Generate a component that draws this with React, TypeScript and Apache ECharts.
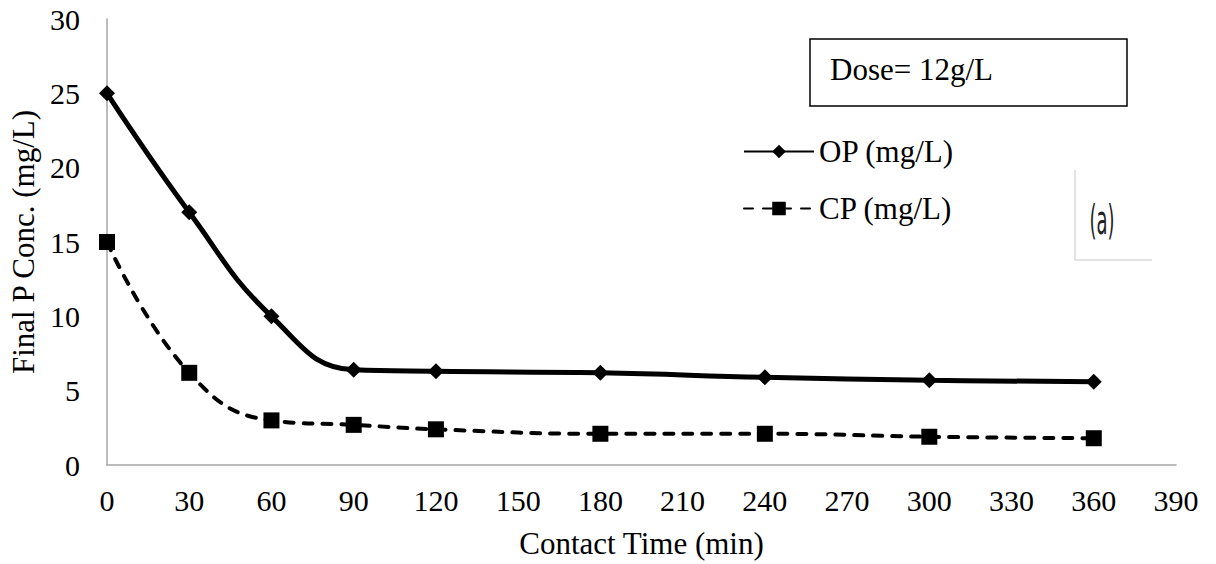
import React, { useEffect, useRef } from "react";
import * as echarts from "echarts";

const times = [0, 30, 60, 90, 120, 180, 240, 300, 360];
const opValues = [25, 17, 10, 6.4, 6.3, 6.2, 5.9, 5.7, 5.6];
const cpValues = [15, 6.2, 3.0, 2.7, 2.4, 2.1, 2.1, 1.9, 1.8];
const seriesNames = ["OP (mg/L)", "CP (mg/L)"];
const xAxisTitle = "Contact Time (min)";
const yAxisTitle = "Final P Conc. (mg/L)";
const doseText = "Dose= 12g/L";
const panelLabel = "(a)";

const FONT = "Liberation Serif, Times New Roman, serif";

export default function App() {
  const ref = useRef<HTMLDivElement>(null);
  useEffect(() => {
    if (!ref.current) return;
    const chart = echarts.init(ref.current, null, { renderer: "svg" });
    const pair = (vals: number[]) => times.map((t, i) => [t, vals[i]]);
    chart.setOption({
      animation: false,
      backgroundColor: "#ffffff",
      textStyle: { fontFamily: FONT },
      grid: { left: 107, right: 40, top: 19, bottom: 97, containLabel: false },
      xAxis: {
        type: "value",
        min: 0,
        max: 390,
        interval: 30,
        name: xAxisTitle,
        nameLocation: "middle",
        nameGap: 63,
        nameTextStyle: { fontFamily: FONT, fontSize: 31, color: "#000" },
        axisLine: { show: true, lineStyle: { color: "#a6a6a6", width: 1.5 } },
        axisTick: { show: false },
        splitLine: { show: false },
        axisLabel: { fontFamily: FONT, fontSize: 30, color: "#000", margin: 20 },
      },
      yAxis: {
        type: "value",
        min: 0,
        max: 30,
        interval: 5,
        name: yAxisTitle,
        nameLocation: "middle",
        nameGap: 67,
        nameTextStyle: { fontFamily: FONT, fontSize: 31, color: "#000" },
        axisLine: { show: true, lineStyle: { color: "#a6a6a6", width: 1.5 } },
        axisTick: { show: false },
        splitLine: { show: false },
        axisLabel: { fontFamily: FONT, fontSize: 30, color: "#000", margin: 27 },
      },
      legend: {
        orient: "vertical",
        left: 743,
        top: 136,
        padding: 0,
        itemWidth: 70,
        itemHeight: 17,
        itemGap: 26,
        textStyle: { fontFamily: FONT, fontSize: 31, color: "#000" },
        data: seriesNames,
      },
      series: [
        {
          name: seriesNames[0],
          type: "line",
          data: pair(opValues),
          smooth: 0.45,
          symbol: "diamond",
          symbolSize: 16,
          itemStyle: { color: "#000" },
          lineStyle: { color: "#000", width: 5 },
        },
        {
          name: seriesNames[1],
          type: "line",
          data: pair(cpValues),
          smooth: 0.45,
          symbol: "rect",
          symbolSize: 16,
          itemStyle: { color: "#000" },
          lineStyle: { color: "#000", width: 4, type: [9, 10], cap: "round" },
        },
      ],
      graphic: [
        {
          type: "rect",
          shape: { x: 810, y: 39, width: 317, height: 67 },
          style: { fill: "#fff", stroke: "#000", lineWidth: 1.5 },
        },
        {
          type: "text",
          x: 830,
          y: 69,
          style: {
            text: doseText,
            fontFamily: FONT,
            fontSize: 31,
            fill: "#000",
            textAlign: "left",
            textVerticalAlign: "middle",
          },
        },
        {
          type: "polyline",
          shape: { points: [[1075, 170], [1075, 260], [1152, 260]] },
          style: { stroke: "#d9d9d9", lineWidth: 1.5, fill: null },
        },
        {
          type: "text",
          x: 1102,
          y: 220,
          scaleX: 0.45,
          style: {
            text: panelLabel,
            fontFamily: "DejaVu Sans",
            fontSize: 40,
            fill: "#222",
            textAlign: "center",
            textVerticalAlign: "middle",
          },
        },
      ],
    });
    return () => chart.dispose();
  }, []);
  return (
    <div
      ref={ref}
      style={{ position: "absolute", left: 0, top: 0, width: 1216, height: 564 }}
    />
  );
}
